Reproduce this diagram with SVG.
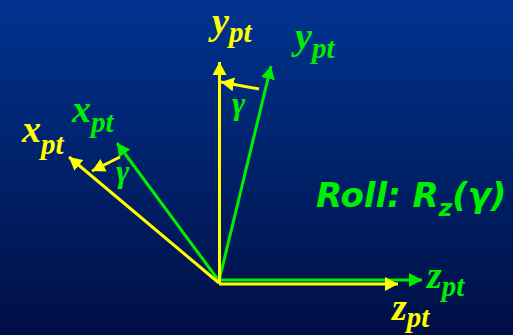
<svg xmlns="http://www.w3.org/2000/svg" width="513" height="335" viewBox="0 0 513 335">
<defs>
<linearGradient id="bg" x1="0" y1="0" x2="0" y2="1">
<stop offset="0" stop-color="#00338f"/>
<stop offset="1" stop-color="#000f45"/>
</linearGradient>
<marker id="ay" markerUnits="userSpaceOnUse" markerWidth="14" markerHeight="14" refX="13" refY="7" orient="auto" viewBox="0 0 14 14">
<path d="M0,0 L13,7 L0,14 Z" fill="#ffff00"/>
</marker>
<marker id="ag" markerUnits="userSpaceOnUse" markerWidth="14" markerHeight="14" refX="13" refY="7" orient="auto" viewBox="0 0 14 14">
<path d="M0,0 L13,7 L0,14 Z" fill="#00ee00"/>
</marker>
</defs>
<style>
.gl{stroke:#00ee00;stroke-width:3;fill:none;marker-end:url(#ag)}
.yl{stroke:#ffff00;stroke-width:3;fill:none;marker-end:url(#ay)}
.lab{font-family:"Liberation Serif","Times New Roman",serif;font-style:italic;font-weight:bold;font-size:38px}
.sub{font-size:29px}
.yel{fill:#ffff00}
.grn{fill:#00ee00}
.gam{font-family:"Liberation Serif","Times New Roman",serif;font-style:italic;font-weight:bold;font-size:32px;fill:#00ee00}
.roll{font-family:"DejaVu Sans",sans-serif;font-style:italic;font-weight:bold;font-size:34px;fill:#00ee00}
</style>
<rect width="513" height="335" fill="url(#bg)"/>
<g id="connectors">
<line class="gl" x1="219" y1="281" x2="117" y2="143"/>
<line class="gl" x1="219" y1="281" x2="271" y2="66"/>
<line class="gl" x1="219" y1="280" x2="422" y2="280"/>
<line class="yl" x1="219" y1="283" x2="69" y2="157"/>
<line class="yl" x1="219.5" y1="283" x2="219.5" y2="62"/>
<line class="yl" x1="219" y1="284" x2="398" y2="284"/>
<line class="yl" x1="259" y1="89" x2="221" y2="82"/>
<line class="yl" x1="120" y1="157" x2="92" y2="171"/>
</g>
<g id="label-y-yellow"><text class="lab yel" x="212" y="34">y<tspan class="sub" dy="8">pt</tspan></text></g>
<g id="label-y-green"><text class="lab grn" x="295" y="49">y<tspan class="sub" dy="9">pt</tspan></text></g>
<g id="label-x-green"><text class="lab grn" x="72" y="122">x<tspan class="sub" dy="10">pt</tspan></text></g>
<g id="label-x-yellow"><text class="lab yel" x="22" y="142">x<tspan class="sub" dy="12">pt</tspan></text></g>
<g id="label-z-green"><text class="lab grn" x="427" y="288">z<tspan class="sub" dy="8">pt</tspan></text></g>
<g id="label-z-yellow"><text class="lab yel" x="392" y="320">z<tspan class="sub" dy="7">pt</tspan></text></g>
<g id="gamma-y"><text class="gam" x="232" y="114">γ</text></g>
<g id="gamma-x"><text class="gam" x="116" y="182">γ</text></g>
<g id="title"><text class="roll" x="316" y="207">Roll: R<tspan font-size="23" dy="9">z</tspan><tspan dy="-9">(γ)</tspan></text></g>
</svg>
